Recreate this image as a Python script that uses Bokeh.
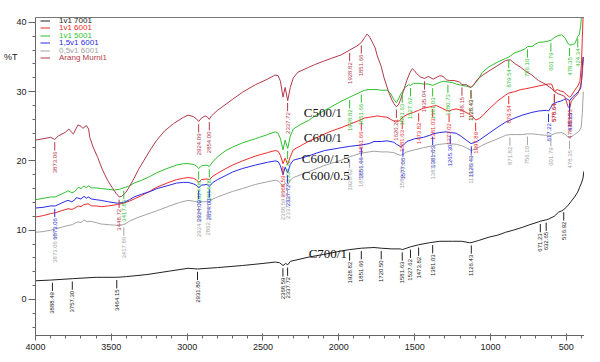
import numpy as np
from bokeh.plotting import figure
from bokeh.models import Range1d, LinearAxis, SingleIntervalTicker, FixedTicker, Label, Legend, LegendItem
from bokeh.core.properties import value
from bokeh.embed import file_html
from bokeh.resources import INLINE

# ---------------- data (wavenumber cm-1, %T) ----------------
arang_wn = [4000, 3950, 3900, 3873, 3850, 3805, 3780, 3765, 3750, 3720, 3700, 3688, 3664, 3650, 3642, 3620,
            3590, 3560, 3525, 3490, 3468, 3448, 3430, 3403, 3380, 3350, 3320, 3284, 3240, 3200, 3150, 3089,
            3024, 2994, 2960, 2940, 2924, 2905, 2880, 2865, 2854, 2840, 2800, 2700, 2636, 2550, 2470, 2420,
            2400, 2385, 2368, 2354, 2337, 2320, 2300, 2270, 2200, 2159, 2100, 2050, 1985, 1928, 1880, 1851,
            1830, 1815, 1800, 1790, 1760, 1747, 1720, 1703, 1671, 1650, 1638, 1620, 1605, 1595, 1575, 1552,
            1530, 1515, 1500, 1487, 1460, 1435, 1410, 1378, 1334, 1313, 1290, 1270, 1240, 1204, 1188, 1160,
            1128, 1110, 1085, 1050, 1009, 950, 900, 870, 836, 800, 771, 727, 684, 640, 600, 578, 554, 530,
            510, 488, 478, 467, 445, 424, 410, 400, 392, 386]
arang_t = [23.0, 23.2, 23.4, 23.1, 23.6, 24.1, 24.6, 24.2, 23.9, 25.2, 25.0, 24.7, 25.1, 24.6, 23.4, 22.0,
           20.5, 18.8, 17.2, 16.0, 15.3, 14.8, 14.9, 15.5, 16.3, 17.5, 18.8, 20.1, 21.7, 23.0, 24.3, 25.4,
           26.3, 26.6, 26.4, 26.1, 25.7, 26.2, 26.5, 26.3, 26.0, 26.5, 27.3, 28.9, 29.9, 31.0, 31.8, 32.4,
           32.3, 31.5, 29.2, 30.6, 28.7, 30.6, 32.0, 32.8, 33.5, 33.9, 34.4, 34.8, 35.3, 36.0, 36.6, 37.1,
           37.8, 38.3, 38.0, 37.6, 36.3, 35.2, 33.6, 32.1, 29.9, 28.8, 28.3, 27.8, 28.2, 28.7, 30.0, 31.6,
           32.8, 33.3, 33.0, 32.6, 32.1, 31.9, 32.2, 31.8, 32.3, 32.2, 31.7, 31.6, 31.6, 31.4, 31.0, 31.0,
           30.6, 31.0, 31.8, 32.4, 33.0, 33.8, 34.5, 34.6, 34.0, 33.5, 33.0, 32.4, 31.6, 31.1, 30.5, 30.0,
           29.7, 29.5, 29.3, 27.8, 27.6, 28.6, 29.2, 29.7, 30.5, 31.5, 33.5, 35.0]

g500_wn = [4000, 3950, 3900, 3870, 3830, 3800, 3785, 3760, 3740, 3718, 3700, 3680, 3665, 3653, 3630, 3600,
           3566, 3520, 3480, 3448, 3420, 3380, 3350, 3300, 3241, 3200, 3133, 3070, 3024, 2994, 2960, 2940,
           2924, 2905, 2870, 2854, 2830, 2800, 2745, 2700, 2636, 2550, 2470, 2420, 2400, 2385, 2368, 2354,
           2337, 2320, 2300, 2250, 2202, 2150, 2093, 2050, 1985, 1928, 1880, 1851, 1830, 1800, 1768, 1747,
           1720, 1682, 1660, 1638, 1620, 1605, 1595, 1581, 1563, 1540, 1527, 1508, 1470, 1443, 1410, 1381,
           1350, 1313, 1280, 1250, 1226, 1190, 1160, 1128, 1110, 1085, 1053, 1009, 950, 900, 879, 840, 800,
           771, 756, 727, 700, 684, 640, 601, 580, 554, 532, 510, 490, 478, 460, 445, 430, 424, 415, 405, 398, 392]
g500_t = [14.4, 14.6, 14.8, 14.8, 15.2, 15.5, 15.7, 15.4, 15.6, 16.2, 16.0, 16.4, 16.1, 16.4, 16.1, 16.1,
          16.0, 15.9, 15.8, 15.9, 16.1, 16.4, 16.8, 17.2, 17.8, 18.3, 18.9, 19.4, 19.6, 19.6, 19.5, 19.3,
          18.9, 19.3, 19.4, 19.2, 19.9, 20.6, 21.5, 22.0, 22.6, 23.2, 23.8, 24.2, 24.0, 23.2, 21.6, 23.0,
          21.8, 23.6, 24.6, 25.3, 25.8, 26.6, 27.3, 27.8, 28.6, 29.2, 29.7, 30.0, 30.2, 30.3, 30.3, 30.3,
          30.2, 30.2, 29.8, 28.9, 28.4, 29.0, 29.5, 30.0, 30.6, 31.0, 30.9, 31.2, 31.2, 31.1, 31.1, 30.9,
          31.2, 31.5, 31.4, 31.3, 31.1, 30.9, 30.8, 30.6, 31.0, 31.6, 32.8, 33.6, 34.3, 34.8, 35.0, 35.6, 35.9,
          36.2, 36.5, 36.5, 36.9, 37.1, 37.2, 37.4, 37.8, 38.1, 38.2, 37.8, 37.0, 36.7, 36.8, 36.9, 37.6, 38.0, 38.2, 39.5, 41.5, 43.0]

r600_wn = [4000, 3950, 3900, 3870, 3830, 3785, 3760, 3740, 3718, 3700, 3680, 3653, 3630, 3600, 3566, 3520,
           3460, 3420, 3380, 3350, 3300, 3241, 3200, 3133, 3070, 3024, 2994, 2960, 2940, 2924, 2905, 2870,
           2854, 2830, 2800, 2745, 2700, 2636, 2550, 2470, 2420, 2400, 2385, 2368, 2354, 2337, 2320, 2300,
           2250, 2202, 2150, 2093, 2050, 1985, 1928, 1880, 1851, 1830, 1800, 1768, 1747, 1720, 1682, 1650,
           1625, 1600, 1573, 1540, 1508, 1473, 1443, 1400, 1381, 1356, 1320, 1291, 1273, 1250, 1226, 1190,
           1161, 1128, 1110, 1097, 1075, 1053, 1009, 950, 900, 879, 840, 800, 771, 727, 684, 640, 617, 597,
           578, 560, 540, 521, 500, 478, 467, 445, 424, 410, 400, 394, 388]
r600_t = [11.9, 12.1, 12.4, 12.5, 12.8, 13.1, 13.0, 13.2, 13.5, 13.4, 13.7, 13.8, 13.5, 13.5, 13.4, 13.5,
          13.7, 13.9, 14.2, 14.5, 15.0, 15.7, 16.2, 16.8, 17.3, 17.5, 17.6, 17.5, 17.3, 16.9, 17.3, 17.4,
          17.3, 17.8, 18.2, 18.9, 19.4, 20.0, 20.7, 21.2, 21.5, 21.4, 20.8, 19.6, 20.4, 19.5, 20.6, 21.6,
          22.2, 22.8, 23.3, 23.9, 24.3, 24.8, 25.3, 25.7, 26.0, 26.2, 26.3, 26.4, 26.5, 26.4, 26.3, 25.9,
          25.6, 25.8, 26.4, 26.8, 27.0, 27.3, 27.6, 27.8, 27.9, 28.0, 27.6, 27.3, 27.2, 27.4, 27.5, 27.3,
          27.0, 26.6, 26.2, 25.9, 26.1, 26.5, 27.5, 28.7, 29.5, 29.8, 30.0, 30.3, 30.4, 30.6, 30.8, 31.0, 31.1, 31.1,
          30.0, 30.3, 30.1, 30.0, 29.6, 29.2, 29.4, 30.2, 30.8, 31.5, 34.0, 38.0, 41.5]

b600_wn = [4000, 3950, 3900, 3870, 3830, 3800, 3785, 3760, 3740, 3730, 3700, 3680, 3665, 3653, 3630, 3600,
           3566, 3520, 3460, 3418, 3380, 3350, 3300, 3241, 3200, 3133, 3070, 3024, 2994, 2960, 2940, 2924,
           2905, 2870, 2854, 2830, 2800, 2745, 2700, 2636, 2550, 2470, 2420, 2400, 2385, 2368, 2354, 2337,
           2320, 2300, 2250, 2202, 2150, 2093, 1985, 1928, 1851, 1800, 1768, 1720, 1682, 1638, 1620, 1595,
           1577, 1552, 1500, 1443, 1400, 1381, 1334, 1290, 1265, 1226, 1190, 1160, 1128, 1100, 1074, 1009,
           950, 900, 850, 791, 727, 684, 630, 617, 605, 590, 560, 540, 520, 500, 478, 460, 440, 420, 405, 398, 390]
b600_t = [13.2, 13.3, 13.5, 13.5, 13.9, 14.2, 14.3, 14.1, 14.4, 14.7, 14.5, 14.9, 14.6, 14.8, 14.5, 14.4,
          14.3, 14.1, 13.9, 14.0, 14.4, 14.8, 15.2, 15.6, 16.0, 16.4, 16.8, 16.9, 16.9, 16.7, 16.5, 16.1,
          16.5, 16.6, 16.3, 16.9, 17.3, 17.9, 18.4, 18.9, 19.4, 19.8, 20.0, 19.9, 19.3, 18.0, 19.1, 18.3,
          19.5, 20.1, 20.4, 20.7, 21.1, 21.5, 21.9, 22.1, 22.3, 22.5, 22.8, 22.8, 22.9, 22.7, 22.4, 22.1,
          22.2, 22.8, 23.2, 23.4, 23.7, 23.9, 24.1, 24.2, 24.1, 24.0, 23.5, 23.0, 22.5, 22.7, 23.0, 24.0,
          24.9, 25.6, 26.1, 26.6, 27.0, 27.2, 27.3, 27.2, 27.6, 28.2, 28.5, 28.6, 28.8, 29.0, 28.7, 29.2, 29.6, 30.0, 30.5, 32.0, 35.0]

k600_wn = [4000, 3950, 3900, 3870, 3830, 3800, 3757, 3740, 3720, 3700, 3680, 3660, 3640, 3600, 3570, 3520,
           3460, 3417, 3380, 3330, 3265, 3200, 3115, 3050, 2994, 2960, 2940, 2924, 2900, 2862, 2830, 2800,
           2700, 2636, 2550, 2470, 2419, 2400, 2385, 2368, 2354, 2337, 2320, 2300, 2202, 2100, 1985, 1928,
           1855, 1800, 1768, 1720, 1681, 1638, 1595, 1581, 1552, 1500, 1443, 1381, 1334, 1290, 1226, 1190,
           1160, 1128, 1100, 1050, 1009, 950, 900, 871, 830, 791, 756, 720, 683, 640, 601, 570, 532, 510,
           488, 478, 460, 445, 420, 402, 394, 388]
k600_t = [9.7, 9.8, 10.0, 10.2, 10.4, 10.6, 10.8, 11.0, 11.2, 11.1, 11.5, 11.2, 11.3, 11.1, 10.9, 10.8,
          10.7, 10.8, 11.3, 11.8, 12.3, 12.8, 13.5, 14.0, 14.3, 14.2, 14.1, 13.9, 14.1, 14.1, 14.5, 14.8,
          15.6, 16.0, 16.6, 17.0, 17.2, 17.1, 16.8, 16.3, 16.8, 16.5, 17.2, 17.6, 18.4, 19.3, 20.1, 20.6,
          21.1, 21.3, 21.4, 21.3, 21.3, 21.2, 20.8, 20.9, 21.3, 21.6, 21.9, 22.2, 22.4, 22.5, 22.4, 22.2,
          21.9, 21.5, 21.7, 22.3, 22.7, 23.2, 23.7, 23.8, 23.8, 23.8, 23.9, 23.9, 23.8, 23.7, 23.7, 24.0, 24.1, 23.9,
          23.4, 23.3, 23.6, 23.8, 24.2, 24.8, 27.0, 30.0]

c700_wn = [4000, 3900, 3757, 3600, 3464, 3400, 3265, 3115, 2994, 2931, 2800, 2636, 2500, 2419, 2390, 2368,
           2350, 2337, 2320, 2202, 2100, 1985, 1928, 1851, 1768, 1720, 1650, 1595, 1581, 1527, 1473, 1400,
           1334, 1250, 1190, 1139, 1128, 1080, 1009, 950, 900, 850, 791, 740, 683, 671, 632, 617, 580, 551,
           530, 516, 500, 488, 470, 445, 425, 412, 400, 390, 384]
c700_t = [2.7, 2.8, 3.0, 3.2, 3.2, 3.3, 3.6, 4.1, 4.5, 4.4, 4.6, 4.9, 5.2, 5.4, 5.3, 4.9,
          5.2, 5.0, 5.5, 6.1, 6.5, 7.0, 7.2, 7.4, 7.5, 7.4, 7.3, 7.3, 7.2, 7.6, 7.9, 8.2,
          8.4, 8.4, 8.4, 8.2, 8.2, 8.5, 9.0, 9.3, 9.7, 10.0, 10.4, 10.8, 11.2, 11.3, 11.5, 11.6, 12.0, 12.6,
          12.8, 13.0, 13.3, 13.6, 14.1, 14.8, 15.5, 16.2, 16.8, 17.5, 18.5]

# labelled peaks of each spectrum
c700_peaks = [3888.49, 3757.30, 3464.15, 2931.80, 2368.59, 2337.72, 1928.82, 1851.66, 1720.50,
              1581.63, 1527.62, 1473.82, 1381.03, 1126.43, 671.23, 632.65, 516.92]
arang_peaks = [3873.06, 3448.72, 2924.09, 2854.00, 2337.72, 1928.82, 1851.66, 1620.21, 1435.04,
               1188.15, 1128.43, 578.64, 478.35]
r600_peaks = [2368.59, 1851.66, 1581.63, 1473.82, 1381.03, 1273.02, 1097.89, 879.54, 578.64, 478.35]
g500_peaks = [3417.86, 2924.09, 2854.00, 2337.72, 1928.82, 1851.66, 1581.63, 1527.62, 1381.03,
              1280.73, 1128.43, 879.54, 756.10, 601.79, 478.35, 424.34]
b600_peaks = [3873.06, 2924.09, 2854.00, 2337.72, 1851.66, 1577.06, 1381.03, 1265.30, 1126.43,
              617.22, 478.35]
k600_peaks = [3873.06, 3417.86, 2924.09, 2862.36, 2368.59, 2337.72, 1928.82, 1851.66, 1581.63,
              1381.03, 1126.43, 871.82, 756.10, 601.79, 478.35]

legend_names = ["1v1 7001", "1v1 6001", "1v1 5001", "1,5v1 6001", "0,5v1 6001", "Arang Murni1"]
sample_names = ["C500/1", "C600/1", "C600/1.5", "C600/0.5", "C700/1"]
y_title = "%T"

# ---------------- figure ----------------
FONT = "Liberation Sans"
p = figure(width=584, height=354, x_range=Range1d(4000, 380), y_range=Range1d(-5.2, 40.7),
           output_backend="svg", toolbar_location=None,
           min_border_left=29, min_border_right=0, min_border_top=17, min_border_bottom=19)
p.xgrid.visible = False
p.ygrid.visible = False
p.outline_line_color = None
p.background_fill_color = "white"

for ax in (p.xaxis[0], p.yaxis[0]):
    ax.axis_line_color = "#666666"
    ax.major_tick_line_color = "#666666"
    ax.minor_tick_line_color = "#666666"
    ax.major_label_text_font = FONT
    ax.major_label_text_font_size = "9px"
    ax.major_label_text_color = "#222222"

p.xaxis.ticker = SingleIntervalTicker(interval=500, num_minor_ticks=5)
p.xaxis.major_tick_in = 2
p.xaxis.major_tick_out = 5
p.xaxis.minor_tick_in = 0
p.xaxis.minor_tick_out = 3
p.xaxis.major_label_standoff = 3

p.yaxis.ticker = SingleIntervalTicker(interval=10, num_minor_ticks=5)
p.yaxis.major_tick_in = 0
p.yaxis.major_tick_out = 7
p.yaxis.minor_tick_in = 0
p.yaxis.minor_tick_out = 3
p.yaxis.major_label_standoff = 2

# "%T" unit label beside the upper part of the y axis
unit_axis = LinearAxis(ticker=FixedTicker(ticks=[35]), major_label_overrides={35: y_title},
                       axis_line_color=None, major_tick_line_color=None, minor_tick_line_color=None,
                       major_tick_in=0, major_tick_out=0, minor_tick_in=0, minor_tick_out=0,
                       major_label_standoff=-4, major_label_text_font=FONT,
                       major_label_text_font_size="9px", major_label_text_color="#222222")
p.add_layout(unit_axis, "left")

# top border line of the plotting area
top = LinearAxis(ticker=FixedTicker(ticks=[]), major_tick_line_color=None, minor_tick_line_color=None,
                 major_tick_in=0, major_tick_out=0, minor_tick_in=0, minor_tick_out=0,
                 major_label_standoff=0, axis_line_color="#777777")
p.add_layout(top, "above")

series = [
    (c700_wn, c700_t, c700_peaks, "#222222"),
    (r600_wn, r600_t, r600_peaks, "#ee2b2b"),
    (g500_wn, g500_t, g500_peaks, "#2fbf2f"),
    (b600_wn, b600_t, b600_peaks, "#2a2ae6"),
    (k600_wn, k600_t, k600_peaks, "#a3a3a3"),
    (arang_wn, arang_t, arang_peaks, "#b2394a"),
]

renderers = []
for wn, t, peaks, color in series:
    r = p.line(wn, t, line_color=color, line_width=1)
    renderers.append(r)

for wn, t, peaks, color in series:
    order = np.argsort(wn)
    w = np.asarray(wn, dtype=float)[order]
    v = np.asarray(t, dtype=float)[order]
    pk = np.asarray(peaks, dtype=float)
    yv = np.interp(pk, w, v)
    p.segment(x0=pk, y0=yv - 0.4, x1=pk, y1=yv - 1.6, line_color=color, line_width=1)
    p.text(x=pk, y=yv - 1.75, text=[f"{k:.2f}" for k in pk], angle=np.pi / 2,
           text_align="right", text_baseline="middle", text_font=value(FONT),
           text_font_size=value("6px"), text_color=color)

# legend, one entry per row, each in its own colour
frame_h = 354 - 17 - 19
for i, (name, r, s) in enumerate(zip(legend_names, renderers, series)):
    centre = 3.0 + 7.4 * i
    lg = Legend(items=[LegendItem(label=name, renderers=[r])],
                location=(5, frame_h - centre - 5),
                padding=0, margin=0, spacing=0, glyph_width=10, glyph_height=7,
                label_height=7, label_standoff=9, label_text_font=FONT,
                label_text_font_size="8px", label_text_color=s[3] if i else "#222222",
                background_fill_alpha=0, border_line_color=None)
    p.add_layout(lg)

name_pos = [(2231, 27.0), (2231, 23.4), (2244, 20.3), (2244, 17.9), (2199, 6.6)]
for name, (x, y) in zip(sample_names, name_pos):
    p.add_layout(Label(x=x, y=y, text=name, text_font="Liberation Serif", text_font_size="13px",
                       text_baseline="alphabetic", text_color="#111111"))

open("out.html", "w").write(file_html(p, INLINE))
